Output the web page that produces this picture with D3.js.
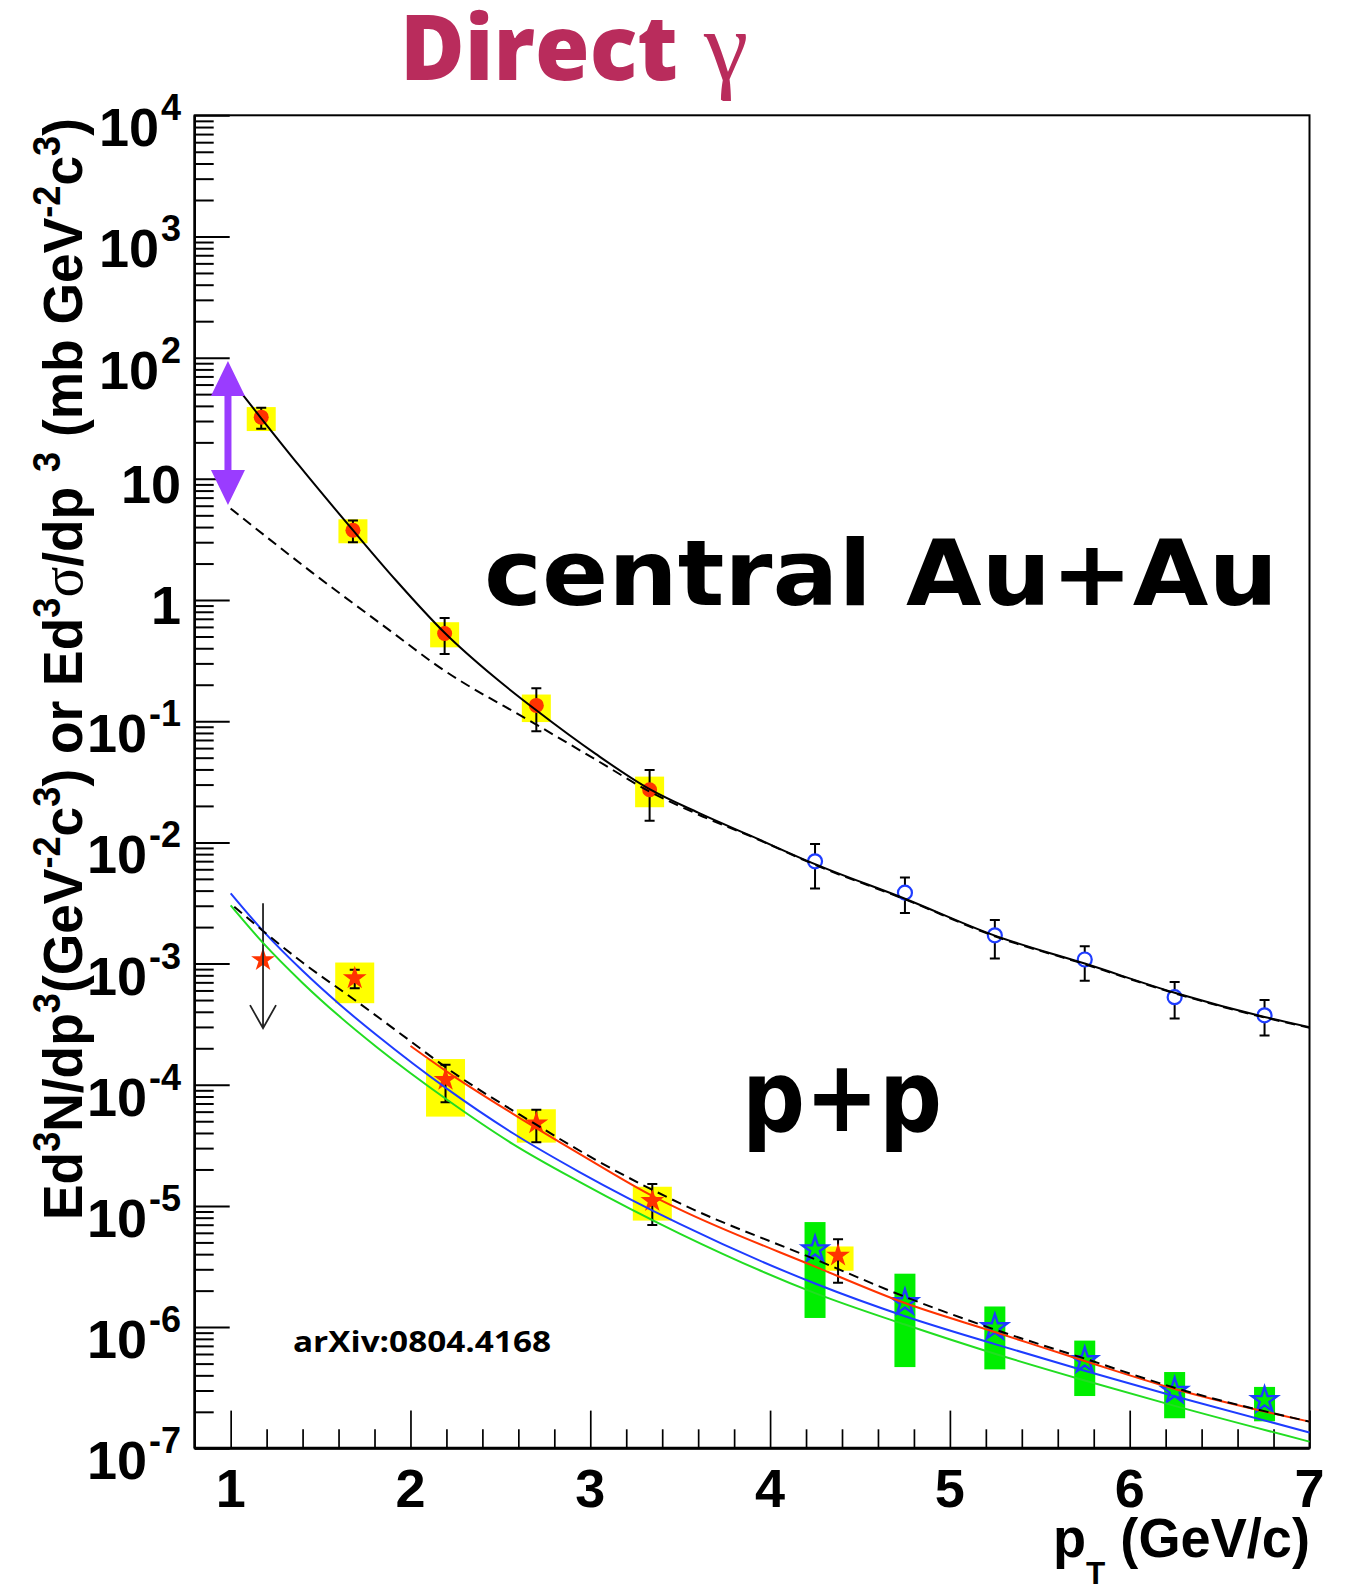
<!DOCTYPE html>
<html lang="en">
<head>
<meta charset="UTF-8">
<title>Direct gamma</title>
<script src="https://d3js.org/d3.v7.min.js"></script>
<style>
  body { margin: 0; background: #fff; }
  svg { display: block; }
</style>
</head>
<body>
<div id="chart"></div>
<script>
// ---- values ----

// central Au+Au, filled red circles, yellow = systematic boxes
var auRedPt    = [1.17, 1.68, 2.19, 2.70, 3.33];
var auRedVal   = [32.3, 3.77, 0.529, 0.135, 0.0272];
var auRedErrHi = [38.7, 4.54, 0.711, 0.187, 0.0395];
var auRedErrLo = [25.9, 3.0, 0.359, 0.0826, 0.0151];
var auRedSysHi = [39.1, 4.64, 0.656, 0.166, 0.0349];
var auRedSysLo = [24.8, 2.94, 0.407, 0.0984, 0.0195];

// central Au+Au, open blue circles
var auBluePt    = [4.25, 4.75, 5.25, 5.75, 6.25, 6.75];
var auBlueVal   = [0.00698, 0.00385, 0.00171, 0.00108, 0.000528, 0.000374];
var auBlueErrHi = [0.0097, 0.00514, 0.00229, 0.00139, 0.000706, 0.0005];
var auBlueErrLo = [0.00416, 0.00262, 0.0011, 0.00072, 0.000352, 0.000255];

// Au+Au fit (solid) and scaled p+p (dashed)
var auFitPt  = [1.0, 1.17, 1.38, 1.68, 1.92, 2.19, 2.47, 2.70, 3.03, 3.33, 3.6, 3.9, 4.25, 4.75, 5.25, 5.75, 6.25, 6.75, 7.0];
var auFitVal = [66.1, 31.6, 12.9, 3.77, 1.45, 0.537, 0.229, 0.123, 0.0537, 0.0275, 0.0176, 0.0112, 0.00661, 0.00343, 0.0017, 0.001, 0.000575, 0.000363, 0.000299];
var auDashPt  = [1.0, 1.45, 1.92, 2.14, 2.70, 3.03, 3.33, 3.6, 3.9, 4.25, 4.75, 5.25, 5.75, 6.25, 6.75, 7.0];
var auDashVal = [5.69, 1.70, 0.513, 0.293, 0.0938, 0.0482, 0.0263, 0.0170, 0.0111, 0.00653, 0.00339, 0.00168, 0.000989, 0.000569, 0.000359, 0.000295];

// p+p, red stars, yellow = systematic boxes
var ppRedPt    = [1.69, 2.195, 2.70, 3.345, 4.378];
var ppRedVal   = [7.58e-4, 1.10e-4, 4.81e-5, 1.10e-5, 3.9e-6];
var ppRedErrHi = [8.89e-4, 1.46e-4, 6.21e-5, 1.52e-5, 5.31e-6];
var ppRedErrLo = [6.27e-4, 7.16e-5, 3.35e-5, 6.97e-6, 2.32e-6];
var ppRedSysHi = [1.02e-3, 1.63e-4, 6.28e-5, 1.44e-5, 4.63e-6];
var ppRedSysLo = [4.71e-4, 5.46e-5, 3.33e-5, 7.57e-6, 2.92e-6];

// p+p upper limit at low pT
var ppLimitPt  = 1.18;
var ppLimitVal = 1.07e-3;
var ppLimitTop = 3.15e-3;
var ppLimitBot = 2.93e-4;

// p+p, open blue stars, green = systematic boxes
var ppStarPt    = [4.25, 4.75, 5.25, 5.75, 6.25, 6.75];
var ppStarVal   = [4.37e-6, 1.60e-6, 9.95e-7, 5.31e-7, 2.97e-7, 2.49e-7];
var ppStarSysHi = [7.36e-6, 2.76e-6, 1.48e-6, 7.74e-7, 4.26e-7, 3.21e-7];
var ppStarSysLo = [1.19e-6, 4.68e-7, 4.48e-7, 2.70e-7, 1.77e-7, 1.67e-7];

// p+p curves
var ppBluePt   = [1.0, 1.18, 1.4, 1.6, 1.82, 2.2, 2.57, 2.94, 3.5, 4.25, 4.75, 5.25, 5.75, 6.25, 7.0];
var ppBlueVal  = [3.80e-3, 1.86e-3, 8.71e-4, 4.68e-4, 2.51e-4, 9.33e-5, 3.98e-5, 1.905e-5, 7.08e-6, 2.29e-6, 1.23e-6, 7.24e-7, 4.37e-7, 2.69e-7, 1.35e-7];
var ppGreenPt  = [1.0, 1.18, 1.4, 1.6, 1.82, 2.2, 2.57, 2.94, 3.5, 4.25, 4.75, 5.25, 5.75, 6.25, 7.0];
var ppGreenVal = [3.02e-3, 1.48e-3, 6.92e-4, 3.72e-4, 2.0e-4, 7.59e-5, 3.24e-5, 1.58e-5, 5.89e-6, 1.91e-6, 1.05e-6, 6.03e-7, 3.63e-7, 2.24e-7, 1.135e-7];
var ppDashPt   = [1.02, 1.18, 1.4, 1.69, 2.0, 2.2, 2.7, 3.03, 3.5, 4.25, 4.75, 5.25, 5.75, 6.25, 7.0];
var ppDashVal  = [2.95e-3, 1.86e-3, 1.02e-3, 5.01e-4, 2.29e-4, 1.38e-4, 4.68e-5, 2.40e-5, 1.05e-5, 3.63e-6, 1.78e-6, 9.55e-7, 5.50e-7, 3.16e-7, 1.66e-7];
var ppRedFitPt  = [2.0, 2.2, 2.57, 2.94, 3.35, 3.5, 4.25, 4.75, 5.25, 5.75, 6.25, 7.0];
var ppRedFitVal = [2.09e-4, 1.29e-4, 5.75e-5, 2.69e-5, 1.20e-5, 9.33e-6, 3.16e-6, 1.58e-6, 9.12e-7, 5.25e-7, 3.09e-7, 1.66e-7];

// purple arrow between the two Au+Au curves at pT = 1
var arrowPt = 0.985;
var arrowTop = 93.7;
var arrowBot = 6.07;

// axis ticks
var xTickLabels = [1, 2, 3, 4, 5, 6, 7];
var yTickExp = [-7, -6, -5, -4, -3, -2, -1, 0, 1, 2, 3, 4];

// ---- layout ----
var W = 1348, H = 1588;
var plotL = 194.7, plotR = 1309.5, plotT = 115.3, plotB = 1448.3;
var HELV = "'Liberation Sans', Arial, Helvetica, sans-serif";

var svg = d3.select("#chart").append("svg")
    .attr("width", W)
    .attr("height", H);

var x = d3.scaleLinear().domain([0.8, 7]).range([plotL, plotR]);
var y = d3.scaleLog().domain([1e-7, 1e4]).range([plotB, plotT]);

function zip(a, b) { return a.map(function (d, i) { return [d, b[i]]; }); }

// ---- axes ----
var yMajor = yTickExp.map(function (e) { return Math.pow(10, e); });
var yMinor = [];
yTickExp.slice(0, -1).forEach(function (e) {
    for (var k = 2; k <= 9; k++) yMinor.push(k * Math.pow(10, e));
});
var xMinor = d3.range(1, 31).map(function (i) { return 0.8 + i * 0.2; })
    .filter(function (v) { return v < 6.99 && Math.abs(v - Math.round(v)) > 0.01; });

function tickAxis(axis, tr, sw) {
    var a = svg.append("g").attr("transform", tr).call(axis);
    a.select(".domain").remove();
    a.selectAll("line").attr("stroke", "#000").attr("stroke-width", sw);
}
tickAxis(d3.axisLeft(y).tickValues(yMajor).tickSize(-35).tickFormat(""), "translate(" + plotL + ",0)", 2);
tickAxis(d3.axisLeft(y).tickValues(yMinor).tickSize(-19).tickFormat(""), "translate(" + plotL + ",0)", 2);
tickAxis(d3.axisBottom(x).tickValues(xTickLabels).tickSize(-37.7).tickFormat(""), "translate(0," + plotB + ")", 1.7);
tickAxis(d3.axisBottom(x).tickValues(xMinor).tickSize(-19).tickFormat(""), "translate(0," + plotB + ")", 1.7);

// frame
svg.append("rect")
    .attr("x", plotL).attr("y", plotT)
    .attr("width", plotR - plotL).attr("height", plotB - plotT)
    .attr("fill", "none").attr("stroke", "#000").attr("stroke-width", 2);
svg.append("line").attr("x1", plotL).attr("x2", plotR).attr("y1", plotB).attr("y2", plotB)
    .attr("stroke", "#000").attr("stroke-width", 3);
svg.append("line").attr("x1", plotL).attr("x2", plotL).attr("y1", plotT).attr("y2", plotB)
    .attr("stroke", "#000").attr("stroke-width", 2.6);

// y tick labels
yTickExp.forEach(function (e) {
    var yy = y(Math.pow(10, e));
    var t = svg.append("text")
        .attr("x", 181)
        .attr("text-anchor", "end")
        .attr("font-family", HELV)
        .attr("font-weight", "bold")
        .attr("font-size", 54);
    if (e === 0 || e === 1) {
        t.attr("y", yy + 24).text(e === 0 ? "1" : "10");
    } else {
        t.attr("y", yy + 31);
        t.append("tspan").text("10");
        t.append("tspan").attr("font-size", 36).attr("dx", 2).attr("dy", -26).text(String(e));
    }
});

// x tick labels
svg.selectAll(".xlab").data(xTickLabels).enter().append("text")
    .attr("x", function (d) { return x(d); })
    .attr("y", 1507)
    .attr("text-anchor", "middle")
    .attr("font-family", HELV)
    .attr("font-weight", "bold")
    .attr("font-size", 54)
    .text(function (d) { return d; });

// axis titles (condensed like the original)
var ytitle = svg.append("text")
    .attr("transform", "translate(82,1220) rotate(-90)")
    .attr("font-family", HELV)
    .attr("font-weight", "bold")
    .attr("font-size", 56)
    .attr("textLength", 1102)
    .attr("lengthAdjust", "spacingAndGlyphs");
var yparts = [["Ed", 0], ["3", 1], ["N/dp", 0], ["3", 1], ["(GeV", 0], ["-2", 1], ["c", 0], ["3", 1],
    [") or Ed", 0], ["3", 1], ["\u03c3", 2], ["/dp ", 0], ["3", 1], [" (mb GeV", 0], ["-2", 1], ["c", 0], ["3", 1], [")", 0]];
var cur = 0;
yparts.forEach(function (p) {
    var off = p[1] === 1 ? -22 : 0;
    var ts = ytitle.append("tspan").attr("dy", off - cur).text(p[0]);
    cur = off;
    if (p[1] === 1) ts.attr("font-size", 38);
    if (p[1] === 2) ts.attr("font-family", "'Liberation Serif', 'Times New Roman', serif").attr("font-weight", "normal").attr("font-size", 60);
});

var xtitle = svg.append("text")
    .attr("x", 1053).attr("y", 1557)
    .attr("font-family", HELV)
    .attr("font-weight", "bold")
    .attr("font-size", 55)
    .attr("textLength", 257)
    .attr("lengthAdjust", "spacingAndGlyphs");
xtitle.append("tspan").text("p");
xtitle.append("tspan").attr("dy", 27).attr("font-size", 32).text("T");
xtitle.append("tspan").attr("dy", -27).text(" (GeV/c)");

// ---- plot content ----
var g = svg.append("g");

function sysBoxes(px, hi, lo, w, color) {
    g.selectAll(null).data(px).enter().append("rect")
        .attr("x", function (d, i) { return x(d) - (typeof w === "function" ? w(i) : w) / 2; })
        .attr("y", function (d, i) { return y(hi[i]); })
        .attr("width", function (d, i) { return typeof w === "function" ? w(i) : w; })
        .attr("height", function (d, i) { return y(lo[i]) - y(hi[i]); })
        .attr("fill", color);
}
sysBoxes(auRedPt, auRedSysHi, auRedSysLo, 29, "#ffff00");
sysBoxes(ppRedPt, ppRedSysHi, ppRedSysLo, function (i) { return i < 4 ? 39 : 31; }, "#ffff00");
sysBoxes(ppStarPt, ppStarSysHi, ppStarSysLo, 21, "#00ee00");

function errBars(px, hi, lo) {
    px.forEach(function (p, i) {
        var cx = x(p), y1 = y(hi[i]), y2 = y(lo[i]);
        g.append("path")
            .attr("d", "M" + cx + "," + y1 + "V" + y2 +
                "M" + (cx - 5) + "," + y1 + "H" + (cx + 5) +
                "M" + (cx - 5) + "," + y2 + "H" + (cx + 5))
            .attr("fill", "none").attr("stroke", "#000").attr("stroke-width", 2);
    });
}
errBars(auRedPt, auRedErrHi, auRedErrLo);
errBars(auBluePt, auBlueErrHi, auBlueErrLo);
errBars(ppRedPt, ppRedErrHi, ppRedErrLo);

// markers
g.selectAll(null).data(zip(auRedPt, auRedVal)).enter().append("circle")
    .attr("cx", function (d) { return x(d[0]); })
    .attr("cy", function (d) { return y(d[1]); })
    .attr("r", 7.5).attr("fill", "#ff3300");
g.selectAll(null).data(zip(auBluePt, auBlueVal)).enter().append("circle")
    .attr("cx", function (d) { return x(d[0]); })
    .attr("cy", function (d) { return y(d[1]); })
    .attr("r", 7).attr("fill", "#fff").attr("stroke", "#1e3cff").attr("stroke-width", 2.2);

var star = d3.symbol().type(d3.symbolStar).size(175);
g.selectAll(null).data(zip(ppRedPt, ppRedVal).concat([[ppLimitPt, ppLimitVal]])).enter().append("path")
    .attr("d", star)
    .attr("transform", function (d) { return "translate(" + x(d[0]) + "," + y(d[1]) + ")"; })
    .attr("fill", "#ff3300");
g.selectAll(null).data(zip(ppStarPt, ppStarVal)).enter().append("path")
    .attr("d", d3.symbol().type(d3.symbolStar).size(200))
    .attr("transform", function (d) { return "translate(" + x(d[0]) + "," + y(d[1]) + ")"; })
    .attr("fill", "none").attr("stroke", "#1e3cff").attr("stroke-width", 2.4);

// upper limit arrow
var lx = x(ppLimitPt), lt = y(ppLimitTop), lb = y(ppLimitBot);
g.append("path")
    .attr("d", "M" + lx + "," + lt + "V" + lb + "M" + (lx - 13) + "," + (lb - 23) + "L" + lx + "," + lb + "L" + (lx + 13) + "," + (lb - 23))
    .attr("fill", "none").attr("stroke", "#222").attr("stroke-width", 1.8);

// curves
var line = d3.line()
    .x(function (d) { return x(d[0]); })
    .y(function (d) { return y(d[1]); })
    .curve(d3.curveMonotoneX);
function curve(px, vals, color, dash) {
    g.append("path").datum(zip(px, vals))
        .attr("d", line)
        .attr("fill", "none")
        .attr("stroke", color)
        .attr("stroke-width", 2)
        .attr("stroke-dasharray", dash || null);
}
curve(ppGreenPt, ppGreenVal, "#22dd22");
curve(ppBluePt, ppBlueVal, "#1e3cff");
curve(ppRedFitPt, ppRedFitVal, "#ff3300");
curve(ppDashPt, ppDashVal, "#000", "10,6");
curve(auDashPt, auDashVal, "#000", "10,6");
curve(auFitPt, auFitVal, "#000");

// purple double arrow
var ax = x(arrowPt), at = y(arrowTop), ab = y(arrowBot);
svg.append("line").attr("x1", ax).attr("x2", ax).attr("y1", at + 30).attr("y2", ab - 30)
    .attr("stroke", "#9a3cff").attr("stroke-width", 7);
svg.append("path")
    .attr("d", "M" + ax + "," + at + "L" + (ax + 17) + "," + (at + 35) + "L" + (ax - 17) + "," + (at + 35) + "Z" +
        "M" + ax + "," + ab + "L" + (ax + 17) + "," + (ab - 35) + "L" + (ax - 17) + "," + (ab - 35) + "Z")
    .attr("fill", "#9a3cff");

// ---- texts ----
svg.append("text")
    .attr("x", 400).attr("y", 80)
    .attr("fill", "#b92c5c")
    .attr("font-family", "'Open Sans', Lato, sans-serif")
    .attr("font-weight", 800)
    .attr("font-size", 91)
    .attr("textLength", 278)
    .attr("lengthAdjust", "spacingAndGlyphs")
    .text("Direct");
svg.append("text")
    .attr("x", 704).attr("y", 80)
    .attr("fill", "#b92c5c")
    .attr("font-family", "'Liberation Serif', 'Times New Roman', serif")
    .attr("font-size", 100)
    .text("\u03b3");

svg.append("text")
    .attr("x", 484).attr("y", 605)
    .attr("font-family", "'DejaVu Sans', sans-serif")
    .attr("font-weight", "bold")
    .attr("font-size", 91)
    .attr("textLength", 794)
    .attr("lengthAdjust", "spacingAndGlyphs")
    .text("central Au+Au");

svg.append("text")
    .attr("x", 742).attr("y", 1131)
    .attr("font-family", "'DejaVu Sans', sans-serif")
    .attr("font-weight", "bold")
    .attr("font-size", 100)
    .attr("textLength", 200)
    .attr("lengthAdjust", "spacingAndGlyphs")
    .text("p+p");

svg.append("text")
    .attr("x", 293).attr("y", 1352)
    .attr("font-family", "'Open Sans', Lato, sans-serif")
    .attr("font-weight", 700)
    .attr("font-size", 28)
    .attr("textLength", 258)
    .attr("lengthAdjust", "spacingAndGlyphs")
    .text("arXiv:0804.4168");
</script>
</body>
</html>
